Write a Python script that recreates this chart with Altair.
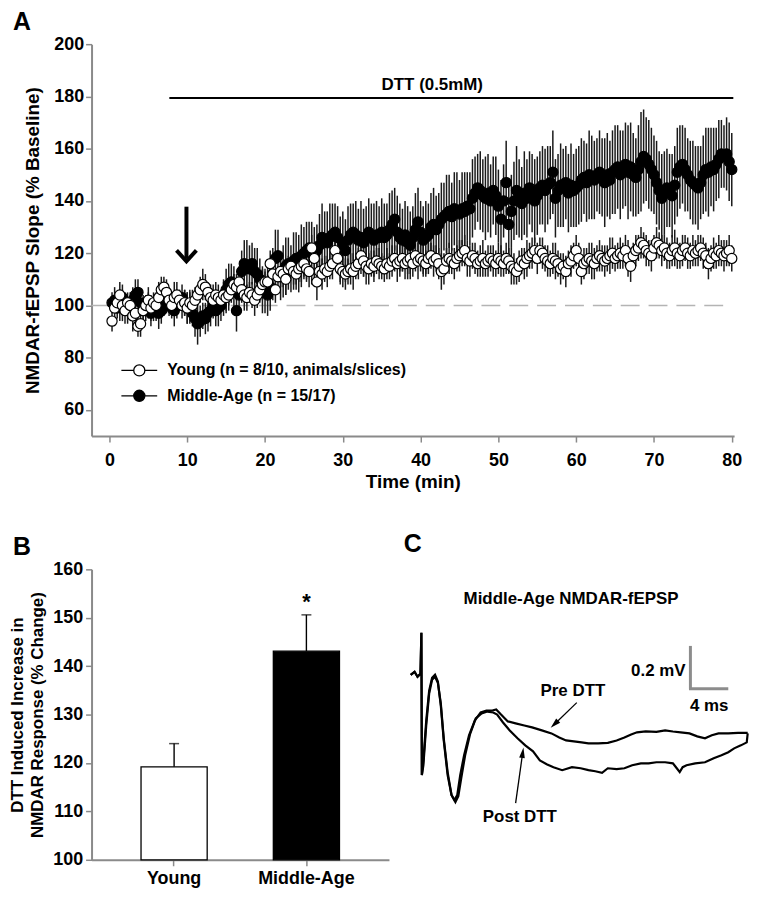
import altair as alt
import pandas as pd

FONT = "Liberation Sans"

# ---------------- Panel A : NMDAR-fEPSP slope over time ----------------
YOUNG = "Young (n = 8/10, animals/slices)"
MA = "Middle-Age (n = 15/17)"

# 20-s bins from 0.33 to 80 min
n_bins = 240
time_min = [round((i + 1) / 3, 3) for i in range(n_bins)]

young_mean = [
    94, 99, 101, 104, 100, 98, 101, 100, 96, 97, 92, 93, 98, 100, 102,
    99, 101, 100, 103, 106, 107, 105, 102, 100, 103, 104, 102, 100, 101, 99,
    101, 100, 102, 104, 106, 108, 107, 105, 103, 102, 104, 103, 102, 104, 103,
    104, 106, 108, 107, 109, 106, 104, 103, 105, 104, 102, 104, 106, 108, 109,
    109, 116, 112, 106, 111, 113, 112, 110, 114, 115, 113, 112, 114, 115, 116,
    114, 113, 122, 118, 109, 113, 112, 114, 113, 115, 116, 121, 118, 114, 113,
    112, 113, 114, 113, 115, 116, 119, 117, 115, 114, 116, 115, 117, 116, 115,
    114, 116, 115, 117, 118, 116, 117, 118, 116, 117, 118, 116, 119, 117, 118,
    117, 116, 118, 119, 117, 118, 116, 113, 114, 117, 118, 117, 116, 118, 119,
    120, 121, 118, 117, 119, 118, 116, 117, 118, 116, 117, 118, 117, 116, 118,
    117, 116, 118, 117, 115, 114, 113, 115, 117, 116, 118, 119, 120, 121, 118,
    121, 120, 118, 117, 116, 118, 117, 116, 114, 115, 113, 116, 117, 119, 121,
    118, 113, 116, 117, 118, 117, 116, 118, 119, 118, 117, 118, 119, 120, 118,
    119, 120, 119, 121, 118, 115, 119, 121, 122, 124, 123, 121, 120, 119, 122,
    124, 123, 121, 122, 120, 119, 121, 122, 120, 119, 121, 122, 120, 119, 121,
    120, 121, 122, 120, 119, 116, 118, 120, 119, 121, 120, 119, 120, 121, 118,
]
young_sem = [
    4, 5, 4, 5, 6, 5, 4, 5, 6, 5, 4, 5, 5, 4, 5,
    5, 4, 5, 6, 5, 4, 5, 5, 4, 6, 5, 4, 5, 5, 6,
    5, 6, 5, 4, 5, 6, 5, 4, 5, 6, 5, 5, 4, 5, 6,
    6, 5, 4, 5, 6, 5, 6, 5, 4, 5, 6, 5, 5, 6, 5,
    6, 5, 6, 5, 4, 6, 5, 6, 5, 4, 5, 6, 5, 6, 5,
    5, 6, 5, 6, 7, 5, 6, 5, 6, 5, 6, 5, 6, 5, 6,
    6, 5, 6, 7, 5, 6, 5, 6, 7, 6, 5, 6, 5, 6, 5,
    5, 6, 5, 6, 5, 7, 6, 5, 6, 5, 6, 5, 6, 7, 5,
    6, 5, 6, 5, 6, 5, 6, 7, 6, 5, 6, 5, 6, 5, 6,
    5, 6, 7, 6, 5, 6, 5, 6, 7, 5, 6, 5, 6, 5, 6,
    6, 5, 6, 5, 7, 6, 5, 6, 5, 6, 7, 5, 6, 5, 6,
    5, 6, 5, 6, 5, 6, 7, 5, 6, 5, 6, 5, 6, 5, 6,
    6, 5, 6, 5, 6, 7, 6, 5, 6, 5, 6, 5, 7, 6, 5,
    5, 6, 5, 6, 7, 6, 5, 6, 5, 6, 5, 6, 5, 6, 5,
    6, 5, 6, 5, 6, 5, 6, 7, 6, 5, 6, 5, 6, 5, 6,
    5, 6, 5, 6, 5, 6, 5, 6, 5, 6, 5, 6, 5, 6, 5,
]
ma_mean = [
    101, 102, 99, 100, 103, 101, 98, 100, 102, 104, 105, 101, 99, 98, 100,
    97, 98, 99, 97, 98, 100, 102, 101, 99, 98, 100, 102, 103, 101, 99,
    99, 97, 95, 93, 94, 96, 95, 97, 98, 100, 98, 99, 100, 103, 106,
    108, 109, 106, 98, 104, 113, 116, 115, 114, 116, 113, 112, 110, 106, 105,
    104, 107, 112, 118, 119, 111, 113, 115, 116, 114, 117, 118, 116, 119, 120,
    121, 122, 120, 119, 121, 123, 126, 125, 124, 126, 127, 128, 126, 121, 124,
    121, 125, 127, 128, 127, 125, 126, 124, 126, 128, 127, 125, 127, 126, 128,
    126, 127, 129, 131, 133, 128, 126, 125, 127, 124, 123, 126, 129, 132, 128,
    125, 126, 127, 130, 131, 129, 131, 133, 134, 135, 136, 134, 137, 136, 135,
    137, 136, 138, 137, 141, 143, 145, 144, 142, 141, 143, 140, 144, 142, 138,
    133, 140, 147, 131, 136, 140, 144, 141, 139, 143, 141, 145, 143, 140, 142,
    145, 146, 144, 146, 147, 151, 141, 144, 146, 145, 147, 143, 146, 144, 145,
    146, 148, 149, 147, 150, 149, 148, 150, 151, 149, 147, 150, 148, 151, 152,
    153, 150, 152, 154, 151, 153, 150, 149, 152, 155, 157, 156, 154, 152, 150,
    147, 144, 141, 143, 145, 144, 142, 146, 151, 153, 154, 152, 150, 148, 147,
    146, 145, 147, 150, 152, 151, 153, 152, 154, 156, 158, 157, 158, 155, 152,
]
ma_sem = [
    4, 5, 4, 6, 5, 4, 5, 4, 5, 6, 5, 4, 5, 4, 5,
    5, 4, 5, 6, 5, 4, 5, 5, 4, 6, 5, 4, 5, 5, 6,
    6, 5, 7, 8, 6, 5, 6, 7, 6, 5, 6, 7, 6, 7, 8,
    8, 7, 9, 8, 7, 8, 9, 10, 9, 8, 9, 10, 8, 9, 8,
    8, 9, 10, 11, 10, 9, 10, 11, 10, 9, 11, 10, 11, 12, 10,
    11, 10, 12, 11, 10, 12, 13, 11, 12, 13, 12, 11, 12, 13, 12,
    12, 13, 12, 11, 13, 12, 14, 13, 12, 13, 12, 14, 13, 12, 13,
    13, 12, 14, 13, 12, 14, 13, 12, 13, 14, 13, 12, 14, 13, 12,
    13, 14, 12, 13, 14, 13, 12, 14, 13, 15, 14, 13, 14, 15, 13,
    14, 15, 13, 14, 15, 14, 13, 15, 14, 16, 15, 14, 13, 15, 14,
    15, 14, 16, 15, 14, 15, 17, 15, 14, 16, 15, 14, 15, 16, 15,
    14, 15, 16, 15, 14, 16, 15, 14, 16, 15, 14, 15, 16, 14, 15,
    15, 16, 14, 15, 17, 16, 15, 14, 16, 15, 17, 16, 15, 16, 17,
    16, 17, 15, 16, 18, 17, 16, 15, 17, 19, 18, 16, 17, 16, 15,
    16, 15, 17, 16, 15, 14, 16, 15, 17, 16, 15, 16, 14, 15, 16,
    15, 16, 14, 15, 16, 17, 15, 16, 14, 15, 13, 12, 14, 15, 14,
]

# annotations of panel A (data units)
dtt_start, dtt_end, dtt_level = 7.7, 80.2, 179.4
dtt_label, dtt_label_time, dtt_label_level = "DTT (0.5mM)", 41.5, 184.5
arrow_time, arrow_top, arrow_tip = 9.9, 137.8, 116.9
baseline_level = 100

# ---------------- Panel B : summary bars ----------------
groups_B = ["Young", "Middle-Age"]
pct_change = [119.2, 143.1]
pct_sem = [4.8, 7.5]
sig_marks = ["", "*"]

# ---------------- Panel C : example traces (ms, mV) ----------------
pre_ms = [-1.13, -0.72, -0.41, -0.10, 0.0, 0.05, 0.21, 0.51, 0.82, 1.13, 1.44, 1.74,
          2.05, 2.36, 2.77, 3.18, 3.49, 3.79, 4.10, 4.51, 5.03, 5.64, 6.26, 6.87,
          7.49, 7.90, 8.41, 9.13, 9.95, 10.87, 11.69, 12.72, 13.74, 14.56, 15.28,
          16.10, 16.92, 17.64, 18.67, 19.69, 20.62, 21.44, 22.15, 22.77, 23.69,
          24.82, 25.74, 26.56, 27.38, 28.31, 29.13, 29.95, 30.67, 31.38, 32.41,
          33.44, 34.46]
pre_mV = [0.274, 0.288, 0.265, 0.279, 0.470, -0.195, -0.126, 0.060, 0.200, 0.260,
          0.274, 0.242, 0.130, -0.033, -0.195, -0.288, -0.312, -0.288, -0.195,
          -0.102, -0.009, 0.060, 0.098, 0.107, 0.107, 0.112, 0.088, 0.056, 0.047,
          0.037, 0.028, 0.014, 0.0, -0.019, -0.033, -0.037, -0.042, -0.047, -0.047,
          -0.044, -0.033, -0.019, -0.005, 0.005, 0.009, 0.007, 0.014, 0.009, 0.005,
          0.0, -0.014, -0.023, -0.009, 0.0, 0.0, 0.002, 0.002]
post_ms = [-1.13, -0.72, -0.41, -0.10, 0.0, 0.05, 0.21, 0.51, 0.82, 1.13, 1.44, 1.74,
           2.05, 2.36, 2.77, 3.18, 3.59, 3.90, 4.21, 4.62, 5.13, 5.74, 6.36, 6.97,
           7.59, 8.00, 8.62, 9.33, 10.15, 10.97, 11.79, 12.51, 13.23, 13.95, 14.87,
           15.90, 16.82, 17.64, 18.36, 19.08, 19.69, 20.62, 21.44, 22.26, 23.18,
           24.00, 24.82, 25.74, 26.56, 26.97, 27.28, 27.59, 28.00, 28.92, 29.95,
           30.87, 31.69, 32.41, 33.03, 33.74, 34.36, 34.46]
post_mV = [0.274, 0.288, 0.265, 0.279, 0.470, -0.195, -0.149, 0.037, 0.186, 0.251,
           0.265, 0.237, 0.140, -0.023, -0.181, -0.288, -0.321, -0.293, -0.209,
           -0.102, -0.005, 0.070, 0.093, 0.102, 0.098, 0.088, 0.051, 0.014, -0.023,
           -0.056, -0.084, -0.126, -0.144, -0.158, -0.172, -0.158, -0.163, -0.172,
           -0.177, -0.184, -0.163, -0.167, -0.163, -0.149, -0.140, -0.140, -0.135,
           -0.135, -0.140, -0.163, -0.181, -0.158, -0.149, -0.140, -0.135, -0.116,
           -0.102, -0.088, -0.070, -0.056, -0.042, 0.0]

# scale bar (0.2 mV / 4 ms) and labels, in trace units
bar_ms, bar_mV, bar_len_ms, bar_len_mV = 28.41, 0.209, 4.0, 0.2
c_labels = ["Middle-Age NMDAR-fEPSP", "0.2 mV", "4 ms", "Pre DTT", "Post DTT"]
c_label_ms = [15.8, 27.9, 30.4, 16.0, 10.4]
c_label_mV = [0.628, 0.293, 0.126, 0.200, -0.390]
c_label_align = ["center", "right", "center", "center", "center"]
c_arrow_from_ms = [16.41, 9.95]
c_arrow_from_mV = [0.144, -0.326]
c_arrow_to_ms = [14.05, 10.70]
c_arrow_to_mV = [0.043, -0.090]
c_arrow_angle = [226, 8]

# ======================================================================
AX = "#8a8a8a"

rows = []
for g, m, s in [(MA, ma_mean, ma_sem), (YOUNG, young_mean, young_sem)]:
    for t, v, e in zip(time_min, m, s):
        rows.append({"group": g, "t": t, "v": v, "lo": v - e, "hi": v + e})
dfA = pd.DataFrame(rows)

xA = alt.Scale(domain=[-2.3, 80.3], nice=False, zero=False)
yA = alt.Scale(domain=[50, 200], nice=False, zero=False)
fillA = alt.Scale(domain=[YOUNG, MA], range=["white", "black"])

LEG_SYM = ("M -2 0 L -0.62 0 M 0.62 0 L 2 0 M 0.62 0 "
           "A 0.62 0.62 0 1 1 -0.62 0 A 0.62 0.62 0 1 1 0.62 0 Z")

x_axis_A = alt.Axis(values=list(range(0, 81, 10)), title="Time (min)",
                    labelPadding=10, titlePadding=3, titleFontSize=19)
y_axis_A = alt.Axis(values=list(range(60, 201, 20)), title="NMDAR-fEPSP Slope (% Baseline)",
                    labelPadding=2, titlePadding=11, titleFontSize=19)

base_line = alt.Chart(pd.DataFrame({"x": [-2.3], "x2": [80.0], "y": [baseline_level]})).mark_rule(
    color="#b4b4b4", strokeWidth=1.6, strokeDash=[19, 9]
).encode(x=alt.X("x:Q", scale=xA, axis=x_axis_A), x2="x2:Q",
         y=alt.Y("y:Q", scale=yA, axis=y_axis_A))

dtt_rule = alt.Chart(pd.DataFrame({"x": [dtt_start], "x2": [dtt_end], "y": [dtt_level]})).mark_rule(
    color="black", strokeWidth=2.2
).encode(x=alt.X("x:Q", scale=xA), x2="x2:Q", y=alt.Y("y:Q", scale=yA))

dtt_text = alt.Chart(pd.DataFrame({"x": [dtt_label_time], "y": [dtt_label_level],
                                   "txt": [dtt_label]})).mark_text(
    font=FONT, fontSize=17, fontWeight="bold", baseline="middle"
).encode(x=alt.X("x:Q", scale=xA), y=alt.Y("y:Q", scale=yA), text="txt:N")

arrow_shaft = alt.Chart(pd.DataFrame({"x": [arrow_time], "y": [arrow_top], "y2": [arrow_tip + 1]})).mark_rule(
    color="black", strokeWidth=4
).encode(x=alt.X("x:Q", scale=xA), y=alt.Y("y:Q", scale=yA), y2="y2:Q")

arrow_head = alt.Chart(pd.DataFrame({"x": [arrow_time], "y": [arrow_tip]})).mark_point(
    shape="M -1 -1.1 L 0 0 L 1 -1.1", size=400, filled=False, color="black", strokeWidth=4,
    strokeJoin="miter", opacity=1
).encode(x=alt.X("x:Q", scale=xA), y=alt.Y("y:Q", scale=yA))

err_A = alt.Chart(dfA).mark_rule(color="#1a1a1a", strokeWidth=1.5).encode(
    x=alt.X("t:Q", scale=xA), y=alt.Y("lo:Q", scale=yA), y2="hi:Q"
)

pts_A = alt.Chart(dfA).mark_point(
    filled=True, shape="circle", size=105, stroke="black", strokeWidth=1.2, opacity=1
).encode(
    x=alt.X("t:Q", scale=xA), y=alt.Y("v:Q", scale=yA),
    fill=alt.Fill("group:N", scale=fillA, legend=alt.Legend(
        title=None, orient="none", legendX=38, legendY=318, symbolType=LEG_SYM,
        symbolSize=324, symbolStrokeColor="black", symbolStrokeWidth=1.3,
        labelFont=FONT, labelFontSize=16, labelFontWeight="bold", labelColor="black",
        labelOffset=18, labelLimit=600, rowPadding=6.5, padding=0, values=[YOUNG, MA])),
)

panelA = alt.layer(base_line, dtt_rule, dtt_text, arrow_shaft, arrow_head, err_A, pts_A).properties(
    width=646, height=394,
    title=alt.TitleParams("A", anchor="start", frame="group", dx=-79, offset=0,
                          fontSize=25, font=FONT, fontWeight="bold", color="black"),
)

# ---------------- Panel B ----------------
dfB = pd.DataFrame({"grp": groups_B, "val": pct_change,
                    "hi": [v + e for v, e in zip(pct_change, pct_sem)], "sig": sig_marks})
xB = alt.X("grp:N", sort=groups_B, scale=alt.Scale(paddingInner=0.5, paddingOuter=0.374),
           axis=alt.Axis(title=None, labelAngle=0, labelPadding=4))
yB = alt.Scale(domain=[100, 160], nice=False, zero=False)

bars_B = alt.Chart(dfB).mark_bar(stroke="black", strokeWidth=1.3).encode(
    x=xB,
    y=alt.Y("val:Q", scale=yB, axis=alt.Axis(values=list(range(100, 161, 10)),
            title=["DTT Induced Increase in", "NMDAR Response (% Change)"],
            labelPadding=3, titlePadding=6, titleFontSize=17, titleLineHeight=20)),
    y2=alt.datum(100),
    fill=alt.Fill("grp:N", scale=alt.Scale(domain=groups_B, range=["white", "black"]), legend=None),
)
err_B = alt.Chart(dfB).mark_rule(color="black", strokeWidth=1.4).encode(
    x=alt.X("grp:N", sort=groups_B), y=alt.Y("val:Q", scale=yB), y2="hi:Q")
cap_B = alt.Chart(dfB).mark_tick(color="black", size=10, thickness=1.5).encode(
    x=alt.X("grp:N", sort=groups_B), y=alt.Y("hi:Q", scale=yB))
star_B = alt.Chart(dfB).mark_text(font=FONT, fontSize=22, fontWeight="bold", dy=-13,
                                  baseline="middle").encode(
    x=alt.X("grp:N", sort=groups_B), y=alt.Y("hi:Q", scale=yB), text="sig:N")

panelB = alt.layer(bars_B, err_B, cap_B, star_B).properties(
    width=299, height=292,
    title=alt.TitleParams("B", anchor="start", frame="group", dx=-79, offset=0,
                          fontSize=25, font=FONT, fontWeight="bold", color="black"),
)

# ---------------- Panel C ----------------
trace_rows = []
for name, ms, mv in [("Pre DTT", pre_ms, pre_mV), ("Post DTT", post_ms, post_mV)]:
    for i, (a, b) in enumerate(zip(ms, mv)):
        trace_rows.append({"trace": name, "i": i, "ms": a, "mV": b})
dfC = pd.DataFrame(trace_rows)

xC = alt.Scale(domain=[-1.64, 34.6], nice=False, zero=False)
yC = alt.Scale(domain=[-0.591, 0.767], nice=False, zero=False)

traces = alt.Chart(dfC).mark_line(color="black", strokeWidth=2.2).encode(
    x=alt.X("ms:Q", scale=xC, axis=None), y=alt.Y("mV:Q", scale=yC, axis=None),
    detail="trace:N", order="i:Q")

sb_v = alt.Chart(pd.DataFrame({"x": [bar_ms], "y": [bar_mV], "y2": [bar_mV + bar_len_mV]})).mark_rule(
    color="#8c8c8c", strokeWidth=3).encode(x=alt.X("x:Q", scale=xC), y=alt.Y("y:Q", scale=yC), y2="y2:Q")
sb_h = alt.Chart(pd.DataFrame({"x": [bar_ms - 0.15], "x2": [bar_ms + bar_len_ms], "y": [bar_mV]})).mark_rule(
    color="#8c8c8c", strokeWidth=3).encode(x=alt.X("x:Q", scale=xC), x2="x2:Q", y=alt.Y("y:Q", scale=yC))

dfCl = pd.DataFrame({"txt": c_labels, "ms": c_label_ms, "mV": c_label_mV, "al": c_label_align})
lab_c = alt.Chart(dfCl[dfCl.al == "center"]).mark_text(
    font=FONT, fontSize=17, fontWeight="bold", baseline="middle", align="center").encode(
    x=alt.X("ms:Q", scale=xC), y=alt.Y("mV:Q", scale=yC), text="txt:N")
lab_r = alt.Chart(dfCl[dfCl.al == "right"]).mark_text(
    font=FONT, fontSize=17, fontWeight="bold", baseline="middle", align="right").encode(
    x=alt.X("ms:Q", scale=xC), y=alt.Y("mV:Q", scale=yC), text="txt:N")

dfArr = pd.DataFrame({"x": c_arrow_from_ms, "y": c_arrow_from_mV, "x2": c_arrow_to_ms,
                      "y2": c_arrow_to_mV, "ang": c_arrow_angle})
arr_line = alt.Chart(dfArr).mark_rule(color="black", strokeWidth=1.3).encode(
    x=alt.X("x:Q", scale=xC), y=alt.Y("y:Q", scale=yC), x2="x2:Q", y2="y2:Q")
arr_head = alt.Chart(dfArr).mark_point(
    shape="M 0 -1 L 0.55 1 L -0.55 1 Z", filled=True, color="black", size=110, opacity=1).encode(
    x=alt.X("x2:Q", scale=xC), y=alt.Y("y2:Q", scale=yC), angle=alt.Angle("ang:Q", scale=None))

panelC = alt.layer(traces, sb_v, sb_h, lab_c, lab_r, arr_line, arr_head).properties(
    width=345, height=292,
    title=alt.TitleParams("C", anchor="start", frame="group", dx=-2, offset=12,
                          fontSize=25, font=FONT, fontWeight="bold", color="black"),
)

bottom = alt.hconcat(panelB, panelC, spacing=15).resolve_scale(x="independent", y="independent", fill="independent")

chart = alt.vconcat(panelA, bottom, spacing=41).resolve_scale(
    x="independent", y="independent", fill="independent"
).properties(padding=0, background="white").configure_view(stroke=None).configure_axis(
    domainColor=AX, domainWidth=2, tickColor=AX, tickWidth=1.5, tickSize=6,
    labelFont=FONT, labelFontSize=18, labelFontWeight="bold", labelColor="black",
    titleFont=FONT, titleFontSize=18, titleFontWeight="bold", titleColor="black", grid=False,
)

chart.save("out.html", embed_options={"renderer": "svg", "actions": False})
